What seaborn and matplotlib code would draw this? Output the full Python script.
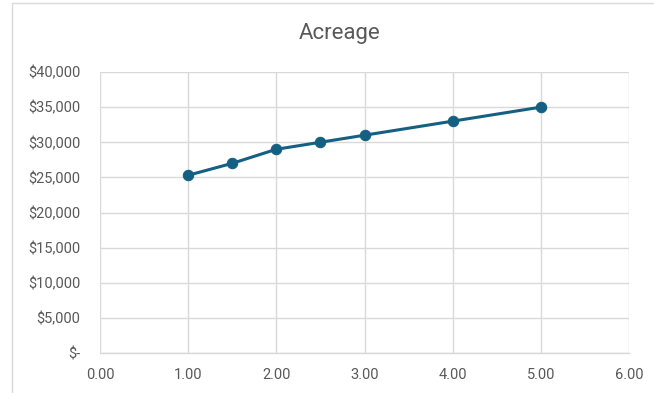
import matplotlib
matplotlib.use("Agg")
import matplotlib.pyplot as plt
from matplotlib.patches import Rectangle
from matplotlib.ticker import FuncFormatter
import seaborn as sns
import pandas as pd

# Acreage vs. price
acres = [1.0, 1.5, 2.0, 2.5, 3.0, 4.0, 5.0]
price = [25300, 27000, 29000, 30000, 31000, 33000, 35000]
x_ticks = [0, 1, 2, 3, 4, 5, 6]
y_ticks = [0, 5000, 10000, 15000, 20000, 25000, 30000, 35000, 40000]

sns.set_theme(style="white")
plt.rcParams["font.family"] = ["Roboto", "DejaVu Sans"]

df = pd.DataFrame({"acres": acres, "price": price})

fig = plt.figure(figsize=(6.54, 3.93), dpi=100)
ax = fig.add_axes([100 / 654, 1 - 353 / 393, 529 / 654, 281 / 393])

# chart frame
fig.patches.append(Rectangle((12 / 654, -0.1), 1.2, (390 / 393) + 0.1,
                             transform=fig.transFigure, fill=False,
                             edgecolor="#D9D9D9", linewidth=1.0, zorder=0))

sns.lineplot(data=df, x="acres", y="price", ax=ax, color="#156082",
             linewidth=2.2, marker="o", markersize=7.5,
             markeredgecolor="#156082", zorder=3)

ax.set_xlim(0, 6)
ax.set_ylim(0, 40000)
ax.set_xticks(x_ticks)
ax.set_yticks(y_ticks)
ax.xaxis.set_major_formatter(FuncFormatter(lambda v, p: f"{v:.2f}"))
ax.yaxis.set_major_formatter(
    FuncFormatter(lambda v, p: "$-" if v == 0 else f"${v:,.0f}"))
ax.grid(True, color="#D9D9D9", linewidth=1.0)
for s in ["top", "right", "left"]:
    ax.spines[s].set_visible(False)
ax.spines["bottom"].set_color("#D9D9D9")
ax.spines["bottom"].set_linewidth(1.0)
ax.tick_params(axis="both", length=0, labelsize=10.5, colors="#595959")
ax.tick_params(axis="x", pad=11)
ax.tick_params(axis="y", pad=14)
ax.set_xlabel("")
ax.set_ylabel("")
fig.text(340 / 654, 1 - 34 / 393, "Acreage", fontsize=16, color="#595959",
         ha="center", va="center")

fig.savefig("out.png", dpi=100)
